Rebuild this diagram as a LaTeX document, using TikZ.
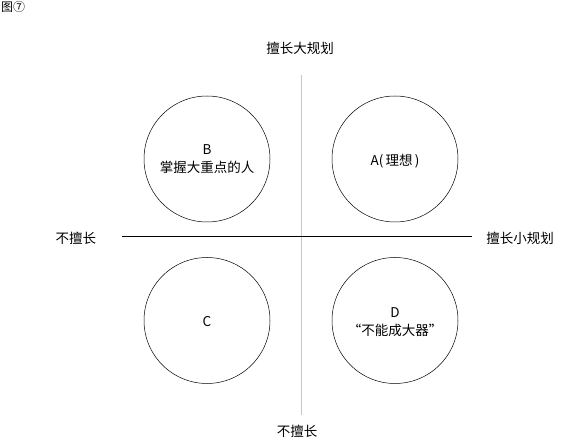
\documentclass[tikz,border=0pt]{standalone}
\usepackage{fontspec}
\setmainfont{Noto Sans CJK SC}
\begin{document}
\begin{tikzpicture}[x=1pt,y=-1pt,
  lbl/.style={font=\fontsize{13.5}{16}\selectfont, inner sep=0pt},
  ctext/.style={font=\fontsize{13.5}{18}\selectfont, align=center, inner sep=0pt},
  circ/.style={draw=black, line width=0.5pt, circle, minimum size=126pt, inner sep=0pt}]
\useasboundingbox (0,0) rectangle (566,446);
\node[anchor=north west, font=\fontsize{12}{14}\selectfont, inner sep=0pt] (title) at (1,1) {图⑦};
\coordinate (vt) at (301,75);
\coordinate (vb) at (301,415);
\coordinate (hl) at (122,236);
\coordinate (hr) at (472,236);
\draw[draw=black!22, line width=0.8pt] (vt) -- (vb);
\draw[black, line width=0.9pt] (hl) -- (hr);
\node[circ] (B) at (207,159) {};
\node[circ] (A) at (395,159) {};
\node[circ] (C) at (207,320.5) {};
\node[circ] (D) at (395,320.5) {};
\node[ctext] (Bt) at (207,159) {B\\掌握大重点的人};
\node[ctext] (At) at (395,161) {A(\,理想\,)};
\node[ctext] (Ct) at (207,322) {C};
\node[ctext] (Dt) at (395,322) {D\\“不能成大器”};
\node[lbl] (top) at (300,48) {擅长大规划};
\node[lbl] (left) at (76,238) {不擅长};
\node[lbl] (right) at (520,238) {擅长小规划};
\node[lbl] (bottom) at (297,431) {不擅长};
\end{tikzpicture}
\end{document}
